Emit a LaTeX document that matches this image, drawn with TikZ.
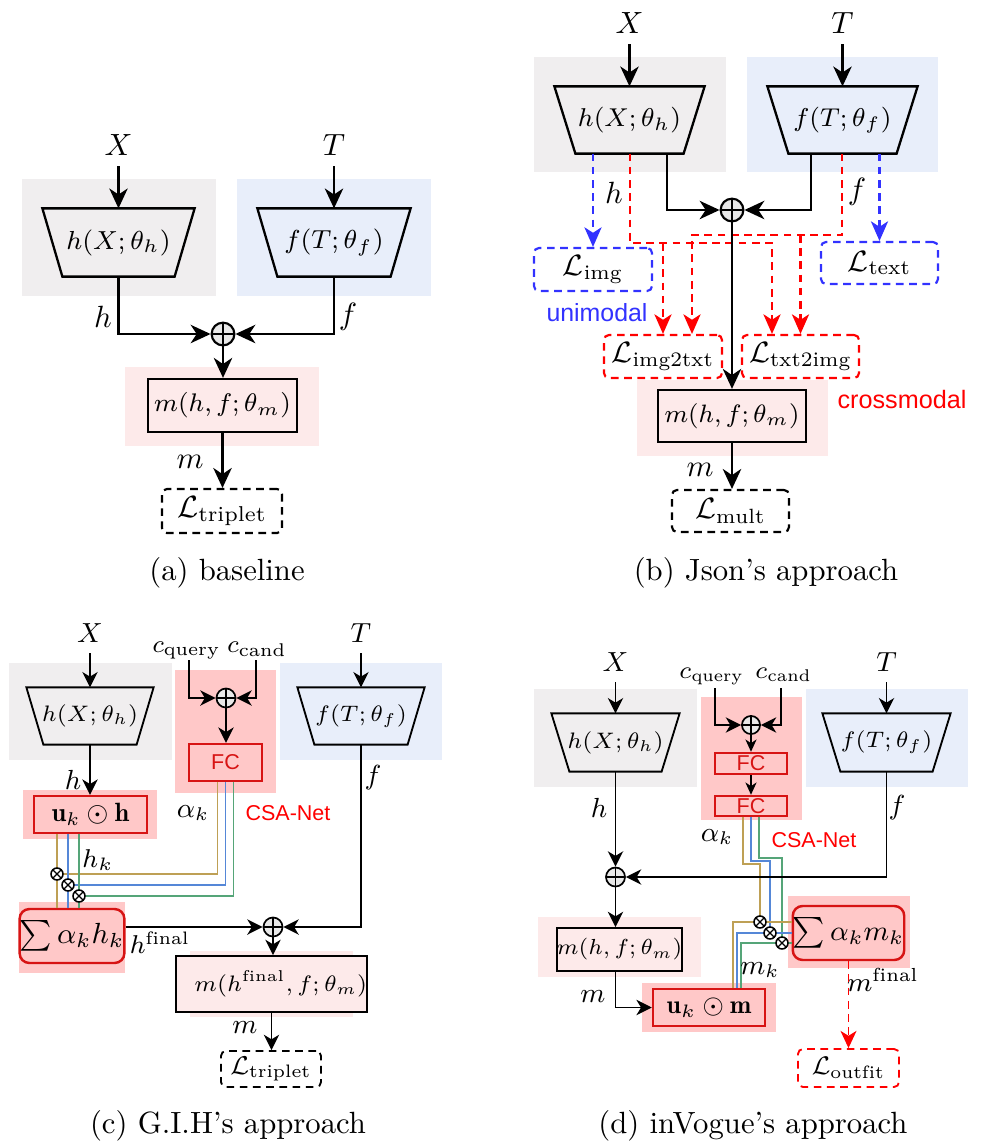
\RequirePackage{fix-cm}
\documentclass[tikz,border=0pt]{standalone}
\usepackage{fontspec}
\newfontfamily\sansA{Liberation Sans}
\usetikzlibrary{arrows.meta,calc}
\def\PX{0.3257pt}
\definecolor{bggray}{RGB}{240,238,239}
\definecolor{bgblue}{RGB}{232,238,250}
\definecolor{bgpinkL}{RGB}{253,234,234}
\definecolor{bgpink}{RGB}{255,200,200}
\definecolor{redB}{RGB}{215,20,20}
\definecolor{dblue}{RGB}{50,50,255}
\definecolor{dred}{RGB}{255,0,0}
\definecolor{opfill}{RGB}{232,232,232}
\definecolor{lgold}{RGB}{190,160,85}
\definecolor{lblue}{RGB}{85,135,215}
\definecolor{lgreen}{RGB}{85,165,120}
\newcommand\fsz[1]{\fontsize{#1}{#1}\selectfont}
\newcommand\trapz[3]{\draw[line width=#3] (#1.north west) -- (#1.north east) -- ([xshift=-#2*\PX]#1.south east) -- ([xshift=#2*\PX]#1.south west) -- cycle;}
\tikzset{
  sz/.style 2 args={minimum width=#1*\PX, minimum height=#2*\PX, inner sep=0pt},
  arrA/.style={line width=0.75pt, -{Stealth[length=6.5pt,width=6pt,inset=2pt]}},
  arrC/.style={line width=0.55pt, -{Stealth[length=5pt,width=5pt,inset=1.5pt]}},
  arrS/.style={line width=0.55pt, -{Stealth[length=4pt,width=3.6pt,inset=1.2pt]}},
  dpat/.style={dash pattern=on 2.5pt off 1.8pt},
  barr/.style={draw=dblue, line width=0.7pt, dpat, -{Stealth[length=6.4pt,width=5.6pt,inset=1.8pt]}},
  rarr/.style={draw=dred, line width=0.7pt, dpat, -{Stealth[length=6.4pt,width=5.6pt,inset=1.8pt]}},
  rarrD/.style={draw=dred, line width=0.6pt, dpat, -{Stealth[length=5.6pt,width=5.2pt,inset=1.6pt]}},
  lossbox/.style={draw, dpat, rounded corners=1.6pt, line width=0.7pt},
  mbox/.style={draw, fill=bgpinkL},
  redbox/.style={draw=redB, fill=bgpink, line width=0.8pt},
  sumbox/.style={draw=redB, fill=bgpink, line width=0.8pt, rounded corners=3.2pt},
  fcbox/.style={draw=redB, fill=bgpink, line width=0.8pt, text=redB, font=\sansA\fsz{7}},
  opA/.style={circle, draw, fill=opfill, inner sep=0pt, minimum size=7.4pt, line width=0.7pt,
    path picture={\draw[line width=0.6pt] (path picture bounding box.north) -- (path picture bounding box.south) (path picture bounding box.west) -- (path picture bounding box.east);}},
  opC/.style={circle, draw, fill=opfill, inner sep=0pt, minimum size=6.2pt, line width=0.55pt,
    path picture={\draw[line width=0.5pt] (path picture bounding box.north) -- (path picture bounding box.south) (path picture bounding box.west) -- (path picture bounding box.east);}},
  otm/.style={circle, draw, fill=white, inner sep=0pt, minimum size=3.9pt, line width=0.5pt,
    path picture={\draw[line width=0.45pt] (path picture bounding box.north west) -- (path picture bounding box.south east) (path picture bounding box.north east) -- (path picture bounding box.south west);}},
  cgold/.style={draw=lgold, line width=0.5pt},
  cblue/.style={draw=lblue, line width=0.5pt},
  cgreen/.style={draw=lgreen, line width=0.5pt},
}
\begin{document}
\begin{tikzpicture}[x=\PX, y=-\PX]
\useasboundingbox (0,0) rectangle (983,1142);

% ================= (a) =================
\fill[bggray] (22,179) rectangle (216,296);
\fill[bgblue] (237,179) rectangle (431,296);
\fill[bgpinkL] (125,367) rectangle (319,446);
\node[sz={151}{67}, font=\fsz{8.5}] (hA) at (118.5,242.5) {$h(X;\theta_h)$};
\trapz{hA}{20}{0.75pt}
\node[sz={152}{67}, font=\fsz{8.5}] (fA) at (334,242.5) {$f(T;\theta_f)$};
\trapz{fA}{20}{0.75pt}
\node[font=\fsz{10}] (xA) at (118.5,145) {$X$};
\node[font=\fsz{10}] (tA) at (334,145) {$T$};
\draw[arrA] (xA) -- (hA.north);
\draw[arrA] (tA) -- (fA.north);
\node[opA] (oA) at (223,334) {};
\draw[arrA] (hA.south) |- (oA.west);
\draw[arrA] (fA.south) |- (oA.east);
\node[font=\fsz{10}] (lhA) at (103,317) {$h$};
\node[font=\fsz{10}] (lfA) at (348,317) {$f$};
\node[sz={149}{53}, mbox, line width=0.75pt, font=\fsz{8.3}] (mA) at (222.5,405.5) {$m(h,f;\theta_m)$};
\draw[arrA] (oA.south) -- (oA.south |- mA.north);
\node[font=\fsz{10}] (lmA) at (190,462) {$m$};
\node[sz={120}{44}, lossbox, font=\fsz{10}] (LA) at (222,511) {$\mathcal{L}_{\mathrm{triplet}}$};
\draw[arrA] (mA.south) -- (mA.south |- LA.north);
\node[font=\fsz{10}] (capA) at (227,573) {(a) baseline};

% ================= (b) =================
\fill[bggray] (534,57) rectangle (726,172);
\fill[bgblue] (747,57) rectangle (938,172);
\fill[bgpinkL] (637,380) rectangle (828,456);
\node[sz={149}{66}, font=\fsz{8.4}] (hB) at (629.5,120) {$h(X;\theta_h)$};
\trapz{hB}{21}{0.75pt}
\node[sz={149}{66}, font=\fsz{8.4}] (fB) at (842.5,120) {$f(T;\theta_f)$};
\trapz{fB}{21}{0.75pt}
\node[font=\fsz{10}] (xB) at (629.5,23) {$X$};
\node[font=\fsz{10}] (tB) at (842.5,23) {$T$};
\draw[arrA] (xB) -- (hB.north);
\draw[arrA] (tB) -- (fB.north);
\node[opA] (oB) at (732,210) {};
\coordinate (hBo) at (667,153);
\coordinate (fBo) at (811,153);
\node[sz={118}{43}, lossbox, draw=dblue, font=\fsz{9.6}] (Limg) at (593,269.5) {$\mathcal{L}_{\mathrm{img}}$};
\node[sz={117}{42}, lossbox, draw=dblue, font=\fsz{9.6}] (Ltext) at (879.5,263) {$\mathcal{L}_{\mathrm{text}}$};
\node[sz={118}{43}, lossbox, draw=dred, font=\fsz{9.6}] (L1) at (663,356.5) {$\mathcal{L}_{\mathrm{img2txt}}$};
\node[sz={117}{43}, lossbox, draw=dred, font=\fsz{9.6}] (L2) at (800.5,356.5) {$\mathcal{L}_{\mathrm{txt2img}}$};
\draw[barr] (Limg.north |- hB.south) -- (Limg.north);
\draw[barr] (Ltext.north |- fB.south) -- (Ltext.north);
\coordinate (hr) at (630,243);
\coordinate (fr) at (842,235);
\draw[rarr] (hr |- hB.south) -- (hr) -| ($(L2.north)+(-28.5,0)$);
\draw[rarr] (L1.north |- hr) -- (L1.north);
\draw[rarr] (fr |- fB.south) -- (fr) -| ($(L1.north)+(29,0)$);
\draw[rarr] (L2.north |- fr) -- (L2.north);
\draw[arrA] (hBo) |- (oB.west);
\draw[arrA] (fBo) |- (oB.east);
\node[sz={148}{52}, mbox, line width=0.75pt, font=\fsz{8.2}] (mB) at (732,416) {$m(h,f;\theta_m)$};
\draw[arrA] (oB.south) -- (mB.north);
\node[font=\fsz{10}] (lhB) at (614,193) {$h$};
\node[font=\fsz{10}] (lfB) at (857,192) {$f$};
\node[font=\sansA\fsz{8.1}, text=dblue] (uni) at (597,313) {unimodal};
\node[font=\sansA\fsz{8.2}, text=dred] (cross) at (902,399) {crossmodal};
\node[font=\fsz{10}] (lmB) at (700,470) {$m$};
\node[sz={117}{42}, lossbox, font=\fsz{9.6}] (Lmult) at (730.5,511) {$\mathcal{L}_{\mathrm{mult}}$};
\draw[arrA] (mB.south) -- (mB.south |- Lmult.north);
\node[font=\fsz{10}] (capB) at (766,573) {(b) Json's approach};

% ================= (c) =================
\fill[bggray] (9,663) rectangle (172,760);
\fill[bgpink] (175,670) rectangle (276,793);
\fill[bgblue] (280,663) rectangle (442,760);
\fill[bgpink] (23,790) rectangle (157,839);
\fill[bgpink] (19,902) rectangle (125,973);
\fill[bgpinkL] (190,951) rectangle (353,1017);
\node[sz={126}{56}, font=\fsz{7.3}] (hC) at (90,716) {$h(X;\theta_h)$};
\trapz{hC}{17}{0.6pt}
\node[sz={126}{56}, font=\fsz{7.3}] (fC) at (361,716) {$f(T;\theta_f)$};
\trapz{fC}{17}{0.6pt}
\node[font=\fsz{9}] (xC) at (90,633) {$X$};
\node[font=\fsz{9}] (tC) at (361,633) {$T$};
\draw[arrC] (xC) -- (hC.north);
\draw[arrC] (tC) -- (fC.north);
\node[font=\fsz{8}, anchor=base] (cqC) at (186.5,652.5) {$c_{\mathrm{query}}$};
\node[font=\fsz{8}, anchor=base] (ccC) at (257,652.5) {$c_{\mathrm{cand}}$};
\coordinate (cqsC) at (189,660);
\coordinate (ccsC) at (256,660);
\node[opC] (oC1) at (226,698) {};
\draw[arrC] (cqsC) |- (oC1.west);
\draw[arrC] (ccsC) |- (oC1.east);
\node[fcbox, sz={73}{37}] (FCc) at (225.5,762.5) {FC};
\draw[arrC] (oC1.south) -- (oC1.south |- FCc.north);
\node[redbox, sz={113}{37}, font=\fsz{8.6}] (uh) at (90.5,814.5) {$\mathbf{u}_k\odot\mathbf{h}$};
\draw[arrC] (hC.south) -- (hC.south |- uh.north);
\node[font=\fsz{9}] (lhC) at (73,780) {$h$};
\node[font=\fsz{9}] (alC) at (193,813) {$\alpha_k$};
\node[font=\sansA\fsz{7}, text=dred] (csaC) at (288,813) {CSA-Net};
\node[font=\fsz{9}] (lfC) at (373,778) {$f$};
\node[font=\fsz{8.4}] (hkC) at (98,860) {$h_k$};
\node[sumbox, sz={90}{54}, font=\fsz{9.5}] (sigC) at (72,936) {$\sum\alpha_k h_k$};
\coordinate (otC1) at (57,874);
\coordinate (otC2) at (68,885);
\coordinate (otC3) at (79,896);
\draw[cgold] ([xshift=-8*\PX]FCc.south) |- (otC1);
\draw[cblue] (FCc.south) |- (otC2);
\draw[cgreen] ([xshift=8*\PX]FCc.south) |- (otC3);
\draw[cgold] (uh.south -| otC1) -- (sigC.north -| otC1);
\draw[cblue] (uh.south -| otC2) -- (sigC.north -| otC2);
\draw[cgreen] (uh.south -| otC3) -- (sigC.north -| otC3);
\node[otm] (otC1n) at (otC1) {};
\node[otm] (otC2n) at (otC2) {};
\node[otm] (otC3n) at (otC3) {};
\node[opC] (oC2) at (273,927) {};
\draw[arrC] (fC.south) |- (oC2.east);
\draw[arrC] (sigC.east |- oC2) -- (oC2.west);
\node[font=\fsz{8.4}] (lhfC) at (160,943) {$h^{\mathrm{final}}$};
\node[sz={157}{56}, mbox, line width=0.6pt, font=\fsz{7.3}] (mC) at (271.5,984) {\hspace*{6pt}$m(h^{\mathrm{final}},f;\theta_m)$};
\draw[arrC] (oC2.south) -- (oC2.south |- mC.north);
\node[font=\fsz{9}] (lmC) at (245,1028) {$m$};
\node[sz={100}{36}, lossbox, line width=0.6pt, font=\fsz{8.4}] (LC) at (271,1069) {$\mathcal{L}_{\mathrm{triplet}}$};
\draw[arrC] (mC.south) -- (mC.south |- LC.north);
\node[font=\fsz{10}] (capC) at (228,1126) {(c) G.I.H's approach};

% ================= (d) =================
\fill[bggray] (534,689) rectangle (697,787);
\fill[bgpink] (701,697) rectangle (802,820);
\fill[bgblue] (806,689) rectangle (968,787);
\fill[bgpinkL] (538,917) rectangle (701,977);
\fill[bgpink] (642,983) rectangle (776,1032);
\fill[bgpink] (788,896) rectangle (910,968);
\node[sz={127}{57}, font=\fsz{7.3}] (hD) at (615.5,742.5) {$h(X;\theta_h)$};
\trapz{hD}{18}{0.6pt}
\node[sz={127}{57}, font=\fsz{7.3}] (fD) at (886.5,742.5) {$f(T;\theta_f)$};
\trapz{fD}{18}{0.6pt}
\node[font=\fsz{9}] (xD) at (615.5,662) {$X$};
\node[font=\fsz{9}] (tD) at (886.5,662) {$T$};
\draw[arrC] (xD) -- (hD.north);
\draw[arrC] (tD) -- (fD.north);
\node[font=\fsz{7.9}, anchor=base] (cqD) at (711.5,678.5) {$c_{\mathrm{query}}$};
\node[font=\fsz{7.9}, anchor=base] (ccD) at (783.5,678.5) {$c_{\mathrm{cand}}$};
\coordinate (cqsD) at (715,688);
\coordinate (ccsD) at (781,688);
\node[opC, minimum size=5.9pt] (oD1) at (751,725) {};
\draw[arrC] (cqsD) |- (oD1.west);
\draw[arrC] (ccsD) |- (oD1.east);
\node[fcbox, sz={72}{21}] (FC1d) at (751,763.5) {FC};
\node[fcbox, sz={72}{20}] (FC2d) at (751,806) {FC};
\draw[arrS] (oD1.south) -- (FC1d.north);
\draw[arrS] (FC1d.south) -- (FC2d.north);
\node[font=\fsz{9}] (alD) at (717,837) {$\alpha_k$};
\node[font=\sansA\fsz{7}, text=dred] (csaD) at (814,840) {CSA-Net};
\node[font=\fsz{9}] (lhD) at (599,808) {$h$};
\node[font=\fsz{9}] (lfD) at (897,808) {$f$};
\node[sz={125}{43}, mbox, line width=0.6pt, font=\fsz{7.1}] (mD) at (619.5,949.5) {$m(h,f;\theta_m)$};
\node[redbox, sz={112}{37}, font=\fsz{8.4}] (um) at (709,1007.5) {$\mathbf{u}_k\odot\mathbf{m}$};
\node[sumbox, sz={109}{54}, font=\fsz{9.2}] (sigD) at (848.5,933) {$\sum\alpha_k m_k$};
\node[sz={101}{38}, lossbox, draw=dred, line width=0.6pt, font=\fsz{8.3}] (Lout) at (848.5,1068) {$\mathcal{L}_{\mathrm{outfit}}$};
\coordinate (otD1) at (760,922);
\coordinate (otD2) at (770,933);
\coordinate (otD3) at (782,943);
\draw[cgold] ([xshift=-8*\PX]FC2d.south) -- ++(0,47) -| (otD1);
\draw[cblue] (FC2d.south) -- ++(0,44) -| (otD2);
\draw[cgreen] ([xshift=8*\PX]FC2d.south) -- ++(0,41) -| (otD3);
\draw[cgold] (sigD.west |- otD1) -| ($(um.north)+(24,0)$);
\draw[cblue] (sigD.west |- otD2) -| ($(um.north)+(28,0)$);
\draw[cgreen] (sigD.west |- otD3) -| ($(um.north)+(32,0)$);
\node[otm] (otD1n) at (otD1) {};
\node[otm] (otD2n) at (otD2) {};
\node[otm] (otD3n) at (otD3) {};
\node[opC] (oD2) at (615.5,877) {};
\draw[arrC] (hD.south) -- (oD2.north);
\draw[arrC] (fD.south) |- (oD2.east);
\draw[arrC] (oD2.south) -- (oD2.south |- mD.north);
\node[font=\fsz{9}] (lmD) at (593,997) {$m$};
\draw[arrC] (mD.south -| oD2) |- (um.west);
\node[font=\fsz{9}] (lmkD) at (760,970) {$m_k$};
\node[font=\fsz{8.8}] (lmfD) at (883,980) {$m^{\mathrm{final}}$};
\draw[rarrD] (sigD.south) -- (Lout.north);
\node[font=\fsz{10}] (capD) at (753,1126) {(d) inVogue's approach};
\end{tikzpicture}
\end{document}
